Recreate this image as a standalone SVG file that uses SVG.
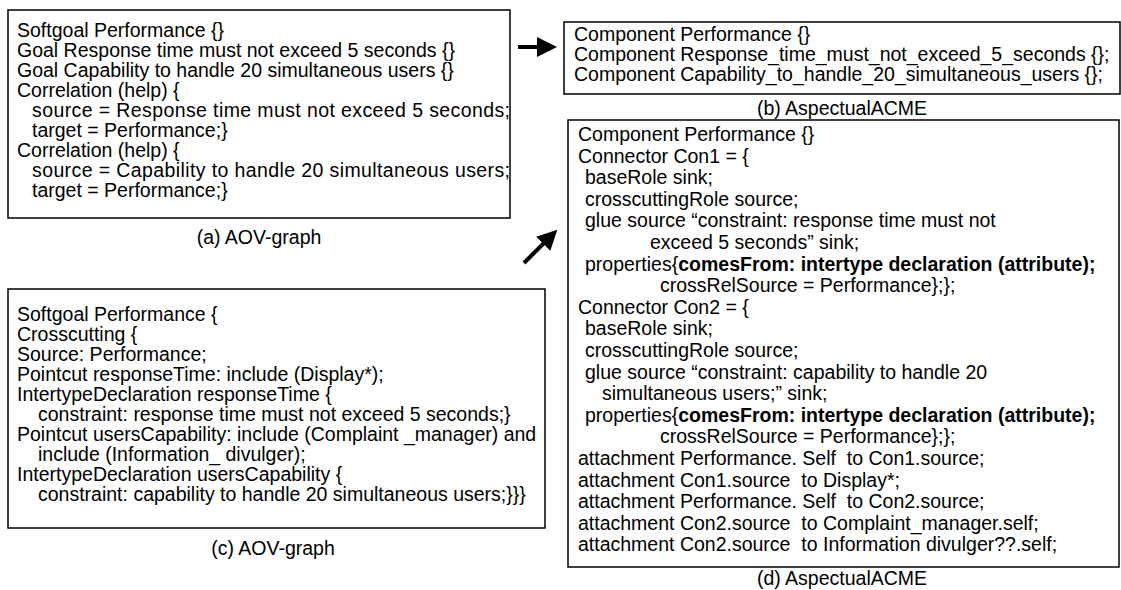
<svg xmlns="http://www.w3.org/2000/svg" width="1121" height="590" viewBox="0 0 1121 590">
<style>
text{font-family:"Liberation Sans",Arial,sans-serif;font-size:19.5px;fill:#000}
.box{fill:#fff;stroke:#000;stroke-width:1.5}
.cap{text-anchor:middle}
.b{font-weight:bold}
</style>
<defs>
<marker id="ah" markerWidth="5" markerHeight="5" refX="1" refY="2.5" orient="auto" markerUnits="strokeWidth">
<path d="M0,0 L5,2.5 L0,5 Z" fill="#000"/>
</marker>
</defs>
<rect width="1121" height="590" fill="#fff"/>
<g id="nodeA">
<rect class="box" x="8" y="10" width="502" height="208"/>
<text x="17" y="37">Softgoal Performance {}</text>
<text x="17" y="57">Goal Response time must not exceed 5 seconds {}</text>
<text x="17" y="77">Goal Capability to handle 20 simultaneous users {}</text>
<text x="17" y="97">Correlation (help) {</text>
<text x="32" y="117" textLength="478" lengthAdjust="spacing">source = Response time must not exceed 5 seconds;</text>
<text x="32" y="137">target = Performance;}</text>
<text x="17" y="157">Correlation (help) {</text>
<text x="32" y="177" textLength="478" lengthAdjust="spacing">source = Capability to handle 20 simultaneous users;</text>
<text x="32" y="197">target = Performance;}</text>
<text class="cap" x="259" y="244">(a) AOV-graph</text>
</g>
<g id="nodeB">
<rect class="box" x="564" y="22" width="556" height="72"/>
<text x="574" y="41">Component Performance {}</text>
<text x="574" y="61">Component Response_time_must_not_exceed_5_seconds {};</text>
<text x="574" y="81">Component Capability_to_handle_20_simultaneous_users {};</text>
<text class="cap" x="842" y="115">(b) AspectualACME</text>
</g>
<g id="nodeC">
<rect class="box" x="8" y="289" width="537" height="239"/>
<text x="17" y="321">Softgoal Performance {</text>
<text x="17" y="341">Crosscutting {</text>
<text x="17" y="361">Source: Performance;</text>
<text x="17" y="381">Pointcut responseTime: include (Display*);</text>
<text x="17" y="401">IntertypeDeclaration responseTime {</text>
<text x="38" y="421">constraint: response time must not exceed 5 seconds;}</text>
<text x="17" y="441">Pointcut usersCapability: include (Complaint _manager) and</text>
<text x="38" y="461">include (Information_ divulger);</text>
<text x="17" y="481">IntertypeDeclaration usersCapability {</text>
<text x="38" y="501">constraint: capability to handle 20 simultaneous users;}}}</text>
<text class="cap" x="273" y="555">(c) AOV-graph</text>
</g>
<g id="nodeD">
<rect class="box" x="568" y="120" width="551" height="447"/>
<text x="578" y="141">Component Performance {}</text>
<text x="578" y="162.6">Connector Con1 = {</text>
<text x="585" y="184.2">baseRole sink;</text>
<text x="585" y="205.8">crosscuttingRole source;</text>
<text x="585" y="227.4">glue source “constraint: response time must not</text>
<text x="650" y="249">exceed 5 seconds” sink;</text>
<text x="585" y="270.6">properties{<tspan class="b">comesFrom: intertype declaration (attribute);</tspan></text>
<text x="660" y="292.2">crossRelSource = Performance};};</text>
<text x="578" y="313.8">Connector Con2 = {</text>
<text x="585" y="335.4">baseRole sink;</text>
<text x="585" y="357">crosscuttingRole source;</text>
<text x="585" y="378.6">glue source “constraint: capability to handle 20</text>
<text x="602" y="400.2">simultaneous users;” sink;</text>
<text x="585" y="421.8">properties{<tspan class="b">comesFrom: intertype declaration (attribute);</tspan></text>
<text x="660" y="443.4">crossRelSource = Performance};};</text>
<text x="578" y="465" xml:space="preserve">attachment Performance. Self  to Con1.source;</text>
<text x="578" y="486.6" xml:space="preserve">attachment Con1.source  to Display*;</text>
<text x="578" y="508.2" xml:space="preserve">attachment Performance. Self  to Con2.source;</text>
<text x="578" y="529.8" xml:space="preserve">attachment Con2.source  to Complaint_manager.self;</text>
<text x="578" y="551.4" xml:space="preserve">attachment Con2.source  to Information divulger??.self;</text>
<text class="cap" x="842" y="585">(d) AspectualACME</text>
</g>
<g id="connectors" stroke="#000" stroke-width="4" fill="none">
<line x1="518" y1="47" x2="541" y2="47" marker-end="url(#ah)"/>
<line x1="524" y1="263" x2="546" y2="241" marker-end="url(#ah)"/>
</g>
</svg>
